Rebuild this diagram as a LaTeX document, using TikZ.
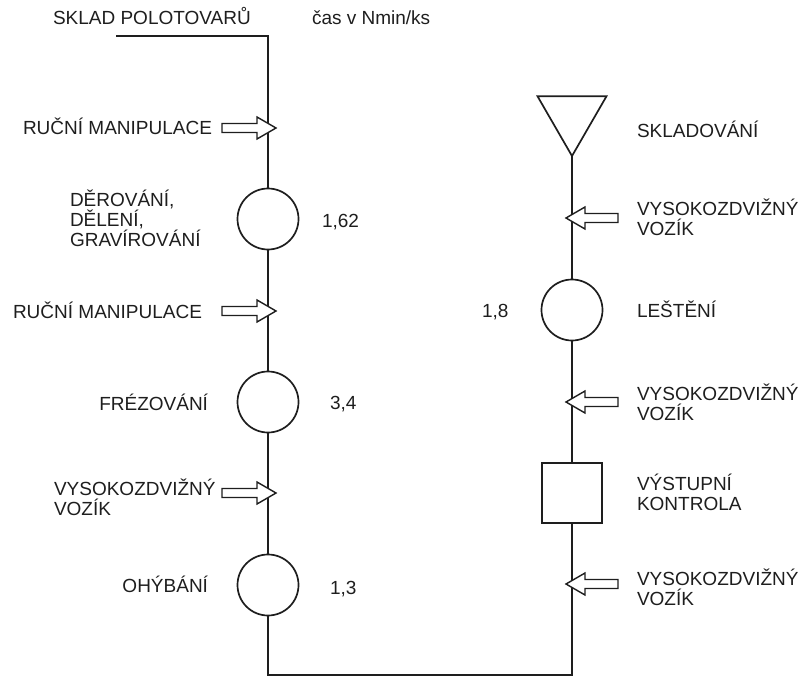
\documentclass[tikz,border=0pt]{standalone}
\usepackage{fontspec}
\setmainfont{Liberation Sans}
\usetikzlibrary{shapes.geometric}
\definecolor{ink}{HTML}{1E1E1E}
\tikzset{
  every node/.style={inner sep=0pt, outer sep=0pt, text=ink},
  lbl/.style={font=\fontsize{19}{20}\selectfont, align=left},
  proc/.style={draw=ink, circle, minimum size=61pt, line width=1.7pt},
  ctrl/.style={draw=ink, rectangle, minimum size=60pt, line width=1.7pt},
  store/.style={draw=ink, regular polygon, regular polygon sides=3, shape border rotate=180, minimum size=79.6pt, line width=1.7pt},
  flow/.style={draw=ink, line width=1.7pt},
  arr/.style={draw=ink, fill=white, line width=1.4pt, line join=miter},
  pics/rblock/.style={code={\draw[arr] (0,0) -- (-19,-11) -- (-19,-4.5) -- (-54,-4.5) -- (-54,4.5) -- (-19,4.5) -- (-19,11) -- cycle;}},
  pics/lblock/.style={code={\draw[arr] (0,0) -- (19,-11) -- (19,-4.5) -- (52,-4.5) -- (52,4.5) -- (19,4.5) -- (19,11) -- cycle;}}
}
\begin{document}
\begin{tikzpicture}[x=1pt,y=-1pt]
\useasboundingbox (0,0) rectangle (803,677);
% shapes
\node[proc] (c1) at (268,219) {};
\node[proc] (c2) at (268,402) {};
\node[proc] (c3) at (268,585) {};
\node[proc] (c4) at (572,310) {};
\node[ctrl] (k) at (572,493) {};
\node[store] (tri) at (572,116.2) {};
\coordinate (start) at (116,36);
\coordinate (bl) at (268,675);
% flow line
\draw[flow] (start) -| (c1.north);
\draw[flow] (c1.south) -- (c2.north);
\draw[flow] (c2.south) -- (c3.north);
\draw[flow] (c3.south) -- (bl) -| (k.south);
\draw[flow] (k.north) -- (c4.south);
\draw[flow] (c4.north) -- (tri.south);
% transport arrows
\pic at (276,128) {rblock};
\pic at (276,311) {rblock};
\pic at (276,493) {rblock};
\pic at (566,218) {lblock};
\pic at (566,402) {lblock};
\pic at (566,584) {lblock};
% texts
\node[lbl, anchor=base west] (t0) at (53,25) {SKLAD POLOTOVARŮ};
\node[lbl, anchor=base west] (t1) at (312,25) {čas v Nmin/ks};
\node[lbl, anchor=base east] (l1) at (212,134) {RUČNÍ MANIPULACE};
\node[lbl, anchor=west] (l2) at (70,218) {DĚROVÁNÍ,\\DĚLENÍ,\\GRAVÍROVÁNÍ};
\node[lbl, anchor=base east] (l3) at (202,318) {RUČNÍ MANIPULACE};
\node[lbl, anchor=base east] (l4) at (208,410) {FRÉZOVÁNÍ};
\node[lbl, anchor=west] (l5) at (54,497.5) {VYSOKOZDVIŽNÝ\\VOZÍK};
\node[lbl, anchor=base east] (l6) at (208,592) {OHÝBÁNÍ};
\node[lbl, anchor=base west] (n1) at (322,227) {1,62};
\node[lbl, anchor=base west] (n2) at (330,409) {3,4};
\node[lbl, anchor=base west] (n3) at (330,594) {1,3};
\node[lbl, anchor=base west] (n4) at (482,317) {1,8};
\node[lbl, anchor=base west] (r1) at (637,137) {SKLADOVÁNÍ};
\node[lbl, anchor=west] (r2) at (637,217) {VYSOKOZDVIŽNÝ\\VOZÍK};
\node[lbl, anchor=base west] (r3) at (637,317) {LEŠTĚNÍ};
\node[lbl, anchor=west] (r4) at (637,402) {VYSOKOZDVIŽNÝ\\VOZÍK};
\node[lbl, anchor=west] (r5) at (637,492) {VÝSTUPNÍ\\KONTROLA};
\node[lbl, anchor=west] (r6) at (637,587) {VYSOKOZDVIŽNÝ\\VOZÍK};
\end{tikzpicture}
\end{document}
